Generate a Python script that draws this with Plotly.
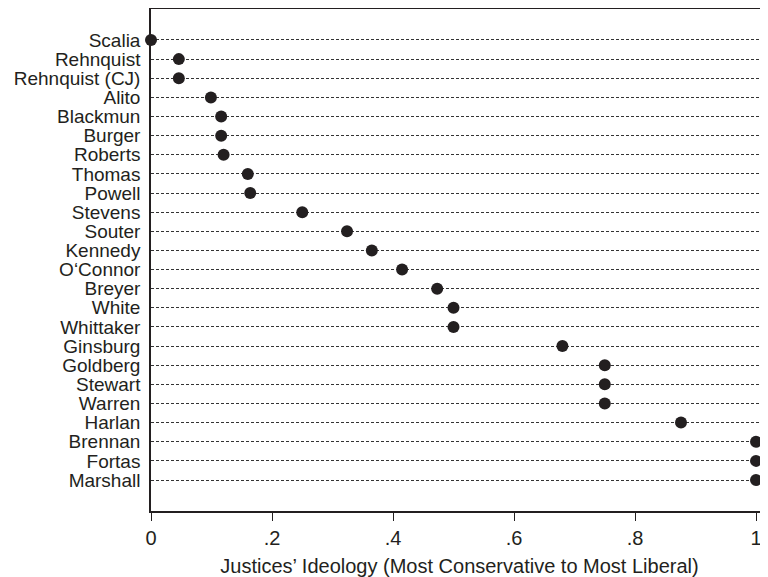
import plotly.graph_objects as go

justices = ["Scalia", "Rehnquist", "Rehnquist (CJ)", "Alito", "Blackmun", "Burger",
            "Roberts", "Thomas", "Powell", "Stevens", "Souter", "Kennedy", "O‘Connor",
            "Breyer", "White", "Whittaker", "Ginsburg", "Goldberg", "Stewart", "Warren",
            "Harlan", "Brennan", "Fortas", "Marshall"]
ideology = [0.0, 0.046, 0.046, 0.099, 0.116, 0.116, 0.12, 0.16, 0.164, 0.25, 0.324,
            0.365, 0.415, 0.473, 0.5, 0.5, 0.68, 0.75, 0.75, 0.75, 0.876, 1.0, 1.0, 1.0]
tick_vals = [0, 0.2, 0.4, 0.6, 0.8, 1.0]
tick_text = ["0", ".2", ".4", ".6", ".8", "1"]

ink = "#231f20"
positions = list(range(len(justices)))

fig = go.Figure(go.Scatter(
    x=ideology, y=positions, mode="markers",
    marker=dict(size=12, color=ink, line=dict(width=0)),
    cliponaxis=False, hoverinfo="skip",
))

fig.update_layout(
    width=760, height=569,
    margin=dict(l=143, r=0, t=1, b=66),
    paper_bgcolor="white", plot_bgcolor="white",
    showlegend=False,
    font=dict(family="Liberation Sans, Arial, sans-serif", size=19, color=ink),
)
fig.update_xaxes(
    range=[0, 1.0198], tickvals=tick_vals, ticktext=tick_text,
    ticks="outside", ticklen=8, tickwidth=1.2, tickcolor=ink,
    showgrid=False, zeroline=False,
    showline=True, linecolor=ink, linewidth=1.5, mirror=True,
    title=dict(text="Justices’ Ideology (Most Conservative to Most Liberal)",
               font=dict(size=20), standoff=12),
    tickfont=dict(size=20),
)
fig.update_yaxes(
    range=[len(justices) - 1 + 1.62, -1.62],
    tickvals=positions, ticktext=justices,
    ticks="", ticklabelstandoff=5,
    showgrid=True, gridcolor="#333333", gridwidth=1, griddash="3px,2px",
    zeroline=False, showline=True, linecolor=ink, linewidth=1.5,
    tickfont=dict(size=19),
)

fig.write_html("out.html")
